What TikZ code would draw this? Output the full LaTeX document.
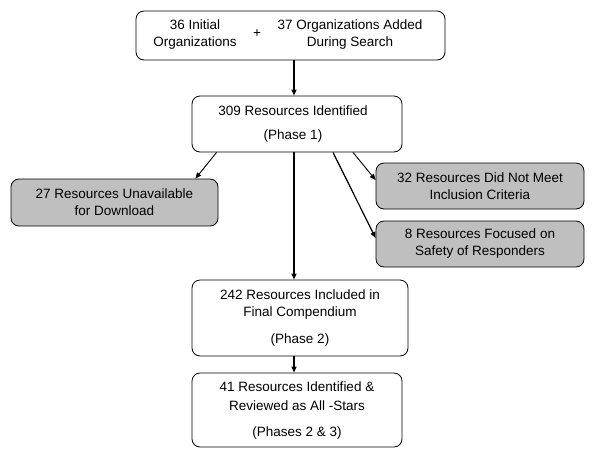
\documentclass[tikz,border=0pt]{standalone}
\usepackage{fontspec}
\setmainfont{Liberation Sans}
\usetikzlibrary{arrows.meta}
\begin{document}
\begin{tikzpicture}[x=1pt,y=1pt,
  box/.style={draw,thick,rounded corners=8pt,inner sep=0pt,align=center,font=\fontsize{13.5}{17}\selectfont},
  gbox/.style={box,fill=black!25},
  lbl/.style={align=center,font=\fontsize{13.5}{17}\selectfont,inner sep=0pt},
  arr/.style={draw,line width=1.2pt,-{Triangle[length=6pt,width=5pt]}},
  darr/.style={draw,line width=0.9pt,-{Triangle[length=6pt,width=5pt]}}]
\useasboundingbox (0,0) rectangle (595,-459);
\fill[white] (0,0) rectangle (595,-459);
% boxes
\node[box,minimum width=309pt,minimum height=49pt] (top) at (290.5,-35.5) {};
\node[lbl] (ta) at (195,-35) {36 Initial\\Organizations};
\node[lbl] (tp) at (257,-34) {+};
\node[lbl] (tb) at (350,-35) {37 Organizations Added\\During Search};
\node[box,minimum width=210pt,minimum height=56pt] (p1) at (297,-124) {\hspace*{-8pt}309 Resources Identified\\[7pt]\hspace*{-8pt}(Phase 1)};
\node[gbox,minimum width=207pt,minimum height=47pt] (ul) at (114.5,-202.5) {27 Resources Unavailable\\for Download};
\node[gbox,minimum width=208pt,minimum height=46pt] (r1) at (480,-186) {32 Resources Did Not Meet\\Inclusion Criteria};
\node[gbox,minimum width=208pt,minimum height=46pt] (r2) at (480,-244) {8 Resources Focused on\\Safety of Responders};
\node[box,minimum width=216pt,minimum height=76pt] (p2) at (300,-318) {242 Resources Included in\\Final Compendium\\[10pt](Phase 2)};
\node[box,minimum width=210pt,minimum height=74pt] (p3) at (297,-410) {41 Resources Identified \&\\[2pt]Reviewed as All -Stars\\[9pt](Phases 2 \& 3)};
% connectors
\draw[arr] ([xshift=-3pt]p1.north |- top.south) -- ([xshift=-3pt]p1.north);
\draw[arr] ([xshift=-3pt]p1.south) -- ([xshift=-3pt]p1.south |- p2.north);
\draw[arr] ([xshift=-6pt]p2.south) -- ([xshift=-6pt]p2.south |- p3.north);
\draw[darr] ([xshift=25pt]p1.south west) -- ([xshift=-23pt]ul.north east);
\draw[darr] ([xshift=56pt]p1.south) -- ([yshift=6pt]r1.west);
\draw[arr] ([xshift=36pt]p1.south) -- ([yshift=6pt]r2.west);
\end{tikzpicture}
\end{document}
